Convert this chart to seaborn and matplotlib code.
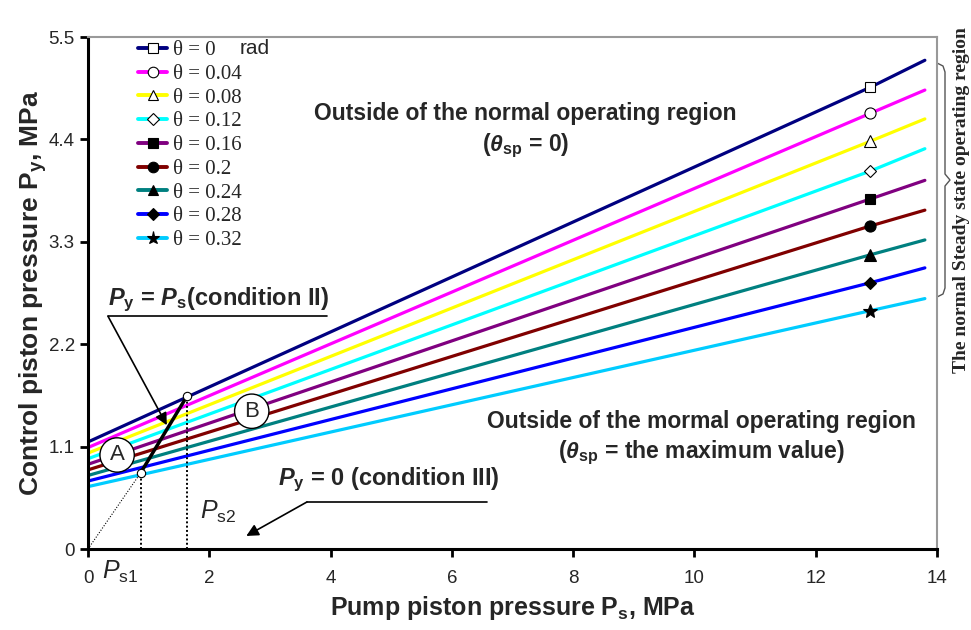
import numpy as np
import pandas as pd
import matplotlib
matplotlib.use("Agg")
import matplotlib.pyplot as plt
import seaborn as sns
from matplotlib.lines import Line2D
from matplotlib.legend_handler import HandlerLine2D
from matplotlib import font_manager

# ---------------- data ----------------
theta_labels = ["θ = 0", "θ = 0.04", "θ = 0.08", "θ = 0.12", "θ = 0.16",
                "θ = 0.2", "θ = 0.24", "θ = 0.28", "θ = 0.32"]
ps_points = [0.0, 12.9, 13.8]                       # pump pressure sample points
py_start = [1.15, 1.09, 1.03, 0.97, 0.91, 0.85, 0.79, 0.73, 0.67]
py_marker = [4.96, 4.68, 4.38, 4.06, 3.76, 3.47, 3.16, 2.86, 2.56]
py_end = [5.25, 4.93, 4.62, 4.30, 3.96, 3.64, 3.32, 3.02, 2.69]

cond2_ps = [0.87, 1.63]     # Ps1, Ps2
cond2_py = [0.82, 1.64]

x_ticks = [0, 2, 4, 6, 8, 10, 12, 14]
y_ticks = [0, 1.1, 2.2, 3.3, 4.4, 5.5]
y_tick_labels = ["0", "1.1", "2.2", "3.3", "4.4", "5.5"]

colors = ["#000080", "#FF00FF", "#FFFF00", "#00FFFF", "#800080",
          "#800000", "#008080", "#0000FF", "#00CCFF"]
markers = ["s", "o", "^", "D", "s", "o", "^", "D", "*"]
mfaces = ["white"] * 4 + ["black"] * 5
msizes = [7, 8, 8, 6.5, 7, 8, 8, 6.5, 10]

# ---------------- style ----------------
sns.set_style("ticks")
names = {f.name for f in font_manager.fontManager.ttflist}
narrow = "Liberation Sans Narrow" if "Liberation Sans Narrow" in names else "Liberation Sans"
plt.rcParams['font.family'] = ['Liberation Sans', 'DejaVu Sans']
plt.rcParams['mathtext.fontset'] = 'custom'
plt.rcParams['mathtext.rm'] = 'Liberation Sans'
plt.rcParams['mathtext.it'] = 'Liberation Sans:italic'
plt.rcParams['mathtext.bf'] = 'Liberation Sans:bold'
plt.rcParams['mathtext.bfit'] = 'Liberation Sans:italic:bold'

rows = []
for lab, a, m, b in zip(theta_labels, py_start, py_marker, py_end):
    for x, y in zip(ps_points, [a, m, b]):
        rows.append({"Ps": x, "Py": y, "theta": lab})
df = pd.DataFrame(rows)

fig = plt.figure(figsize=(9.71, 6.30), dpi=100)
ax = fig.add_axes([88/971, 1-549/630, (937-88)/971, (549-37)/630])

sns.lineplot(data=df, x="Ps", y="Py", hue="theta", palette=colors,
             linewidth=2.3, legend=False, ax=ax, sort=True)

mk = df[df["Ps"] == ps_points[1]]
for i, lab in enumerate(theta_labels):
    sub = mk[mk["theta"] == lab]
    ax.plot(sub["Ps"], sub["Py"], linestyle="none", marker=markers[i],
            mfc=mfaces[i], mec="black", mew=0.8, ms=msizes[i], zorder=5)

# condition II line and Ps1/Ps2 markers
ax.plot([0, cond2_ps[0]], [0, cond2_py[0]], color="black", lw=0.8, ls=(0, (1, 1.5)))
ax.plot(cond2_ps, cond2_py, color="black", lw=2.5, zorder=6)
for xp, yp in zip(cond2_ps, cond2_py):
    ax.plot([xp, xp], [0, yp], color="black", lw=1.4, ls=(0, (1, 1.2)), zorder=4)
ax.plot(cond2_ps, cond2_py, ls="none", marker="o", mfc="white", mec="black",
        ms=6, mew=0.8, zorder=7)

ax.set_xlim(0, 14)
ax.set_ylim(0, 5.5)
ax.set_xticks(x_ticks)
ax.set_xticklabels([str(t) for t in x_ticks], fontfamily=narrow, fontsize=13.5)
ax.set_yticks(y_ticks)
ax.set_yticklabels(y_tick_labels, fontsize=13.5)
ax.tick_params(axis="both", direction="out", length=6, width=2, color="black")
ax.tick_params(axis="x", pad=9)
for s in ["left", "bottom"]:
    ax.spines[s].set_color("black")
    ax.spines[s].set_linewidth(2.2)
for s in ["top", "right"]:
    ax.spines[s].set_color("#999999")
    ax.spines[s].set_linewidth(1.5)

ax.set_xlabel(r"Pump piston pressure P$_\mathbf{s}$, MPa", fontsize=18,
              fontweight="bold", fontfamily=narrow, labelpad=5)
ax.set_ylabel(r"Control piston pressure P$_\mathbf{y}$, MPa", fontsize=19,
              fontweight="bold", labelpad=0)

# legend with marker at left end of handle
class LeftMarker(HandlerLine2D):
    def get_xdata(self, legend, xdescent, ydescent, width, height, fontsize):
        xdata = np.array([-xdescent, -xdescent + width])
        return xdata, np.array([-xdescent + 0.18 * width])

handles = [Line2D([], [], color=c, lw=2.8, marker=m, mfc=f, mec="black",
                  mew=0.8, ms=s*0.95) for c, m, f, s in zip(colors, markers, mfaces, msizes)]
leg = ax.legend(handles, theta_labels, loc="upper left",
                bbox_to_anchor=((138-88)/849, 0.993), frameon=False,
                prop={"family": "Liberation Serif", "size": 15},
                handlelength=1.4, handletextpad=0.3, labelspacing=0.2,
                borderpad=0, borderaxespad=0,
                handler_map={Line2D: LeftMarker()})
ax.text(0.179, 0.977, "rad", transform=ax.transAxes, fontsize=15,
        ha="left", va="center")

# annotations
ax.text(7.21, 4.49, "Outside of the normal operating region\n"
        r"($\mathbfit{\theta}_{\mathbf{sp}}$ = 0)",
        ha="center", va="center", fontsize=16.5, fontweight="bold", linespacing=1.3)
ax.text(10.11, 1.185, "Outside of the mormal operating region\n"
        r"($\mathbfit{\theta}_{\mathbf{sp}}$ = the maximum value)",
        ha="center", va="center", fontsize=16.5, fontweight="bold", linespacing=1.3)

ax.text(0.33, 2.68, r"$\mathbfit{P}_{\mathbf{y}}$ = $\mathbfit{P}_{\mathbf{s}}$(condition II)",
        ha="left", va="center", fontsize=17, fontweight="bold")
ax.plot([0.33, 3.94], [2.50, 2.50], color="black", lw=1.2)
ax.annotate("", xy=(1.30, 1.33), xytext=(0.33, 2.50),
            arrowprops=dict(arrowstyle="-|>", color="black", lw=1.2,
                            mutation_scale=18, shrinkA=0, shrinkB=0))

ax.text(3.13, 0.74, r"$\mathbfit{P}_{\mathbf{y}}$ = 0 (condition III)",
        ha="left", va="center", fontsize=17, fontweight="bold")
ax.plot([3.61, 6.58], [0.505, 0.505], color="black", lw=1.2)
ax.annotate("", xy=(2.61, 0.14), xytext=(3.61, 0.505),
            arrowprops=dict(arrowstyle="-|>", color="black", lw=1.2,
                            mutation_scale=18, shrinkA=0, shrinkB=0))

for lab, (xa, ya) in {"A": (0.48, 1.01), "B": (2.70, 1.48)}.items():
    ax.text(xa, ya, lab, ha="center", va="center", fontsize=16, zorder=8,
            bbox=dict(boxstyle="circle,pad=0.3", fc="white", ec="black", lw=1))

ax.text(0.53, -0.25, r"$\mathit{P}_{\mathrm{s1}}$", ha="center", va="center",
        fontsize=18, clip_on=False)
ax.text(2.14, 0.40, r"$\mathit{P}_{\mathrm{s2}}$", ha="center", va="center",
        fontsize=18)

# brace on the right
bx = lambda px: (px - 88) / 849
by = lambda py: (549 - py) / 512
brace_x = [937, 943, 945, 945, 950, 945, 945, 943, 937]
brace_y = [63, 66, 72, 174, 180, 186, 288, 294, 297]
ax.plot([bx(v) for v in brace_x], [by(v) for v in brace_y], color="#555555",
        lw=1.0, transform=ax.transAxes, clip_on=False)
ax.text(bx(961), by(200), "The normal Steady state operating region",
        rotation=90, ha="center", va="center", fontsize=14, fontweight="bold",
        fontfamily="Liberation Serif", transform=ax.transAxes)

fig.savefig("out.png", dpi=100)
